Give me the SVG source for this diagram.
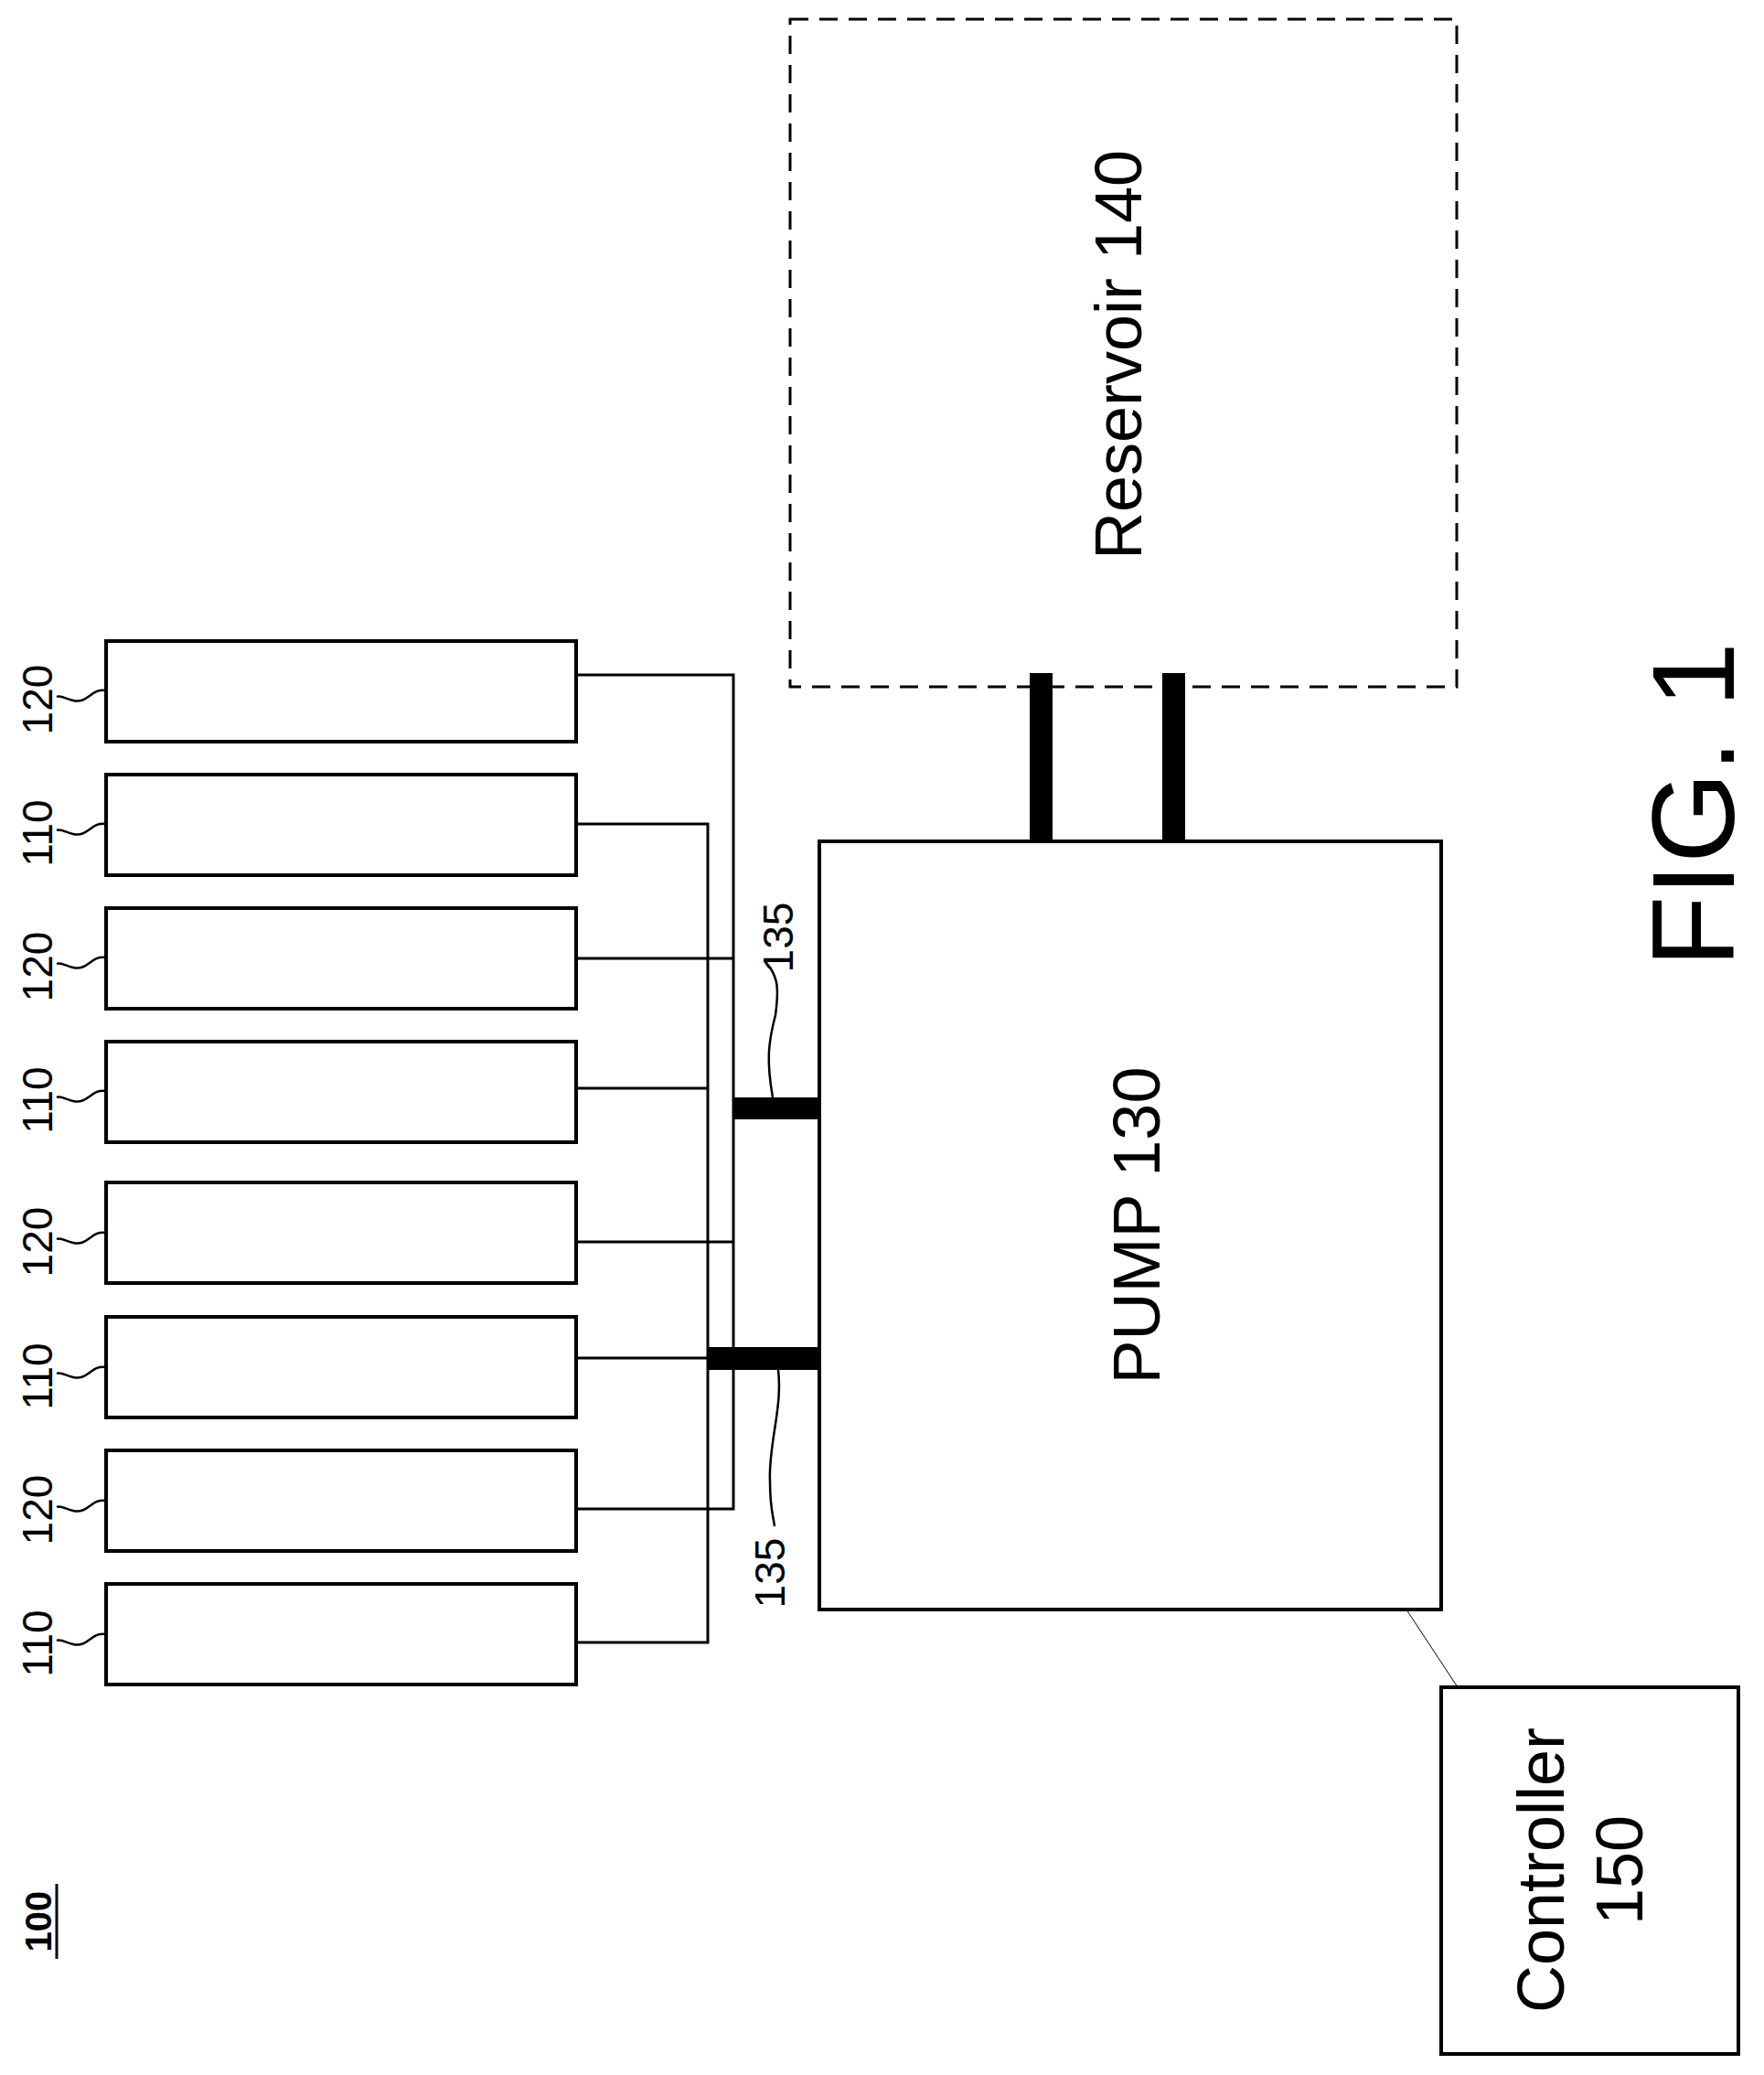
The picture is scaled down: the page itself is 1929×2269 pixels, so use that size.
<svg xmlns="http://www.w3.org/2000/svg" width="1929" height="2269" viewBox="0 0 1929 2269">
<style>
.b{fill:none;stroke:#000;stroke-width:4}
.w{fill:none;stroke:#000;stroke-width:3}
.t{font-family:"Liberation Sans",Arial,sans-serif;fill:#000}
.l{font-family:"Liberation Sans",Arial,sans-serif;font-size:46px;fill:#000;text-anchor:middle}
.s{fill:none;stroke:#000;stroke-width:2.5}
</style>
<rect width="1929" height="2269" fill="#fff"/>
<g id="connectors">
<path class="w" d="M630 738H802V1650H630M630 1048H802M630 1358H802"/>
<path class="w" d="M630 901H774V1796H630M630 1190H774M630 1485H774"/>
<rect x="802" y="1200" width="94" height="24" fill="#000"/>
<rect x="774" y="1473" width="122" height="25" fill="#000"/>
<rect x="1126" y="736" width="25" height="184" fill="#000"/>
<rect x="1271" y="736" width="25" height="184" fill="#000"/>
<line x1="1538" y1="1760" x2="1594" y2="1845" stroke="#000" stroke-width="1"/>
<path class="s" d="M845 1200C838 1160 840 1140 848 1110C852 1080 850 1070 842 1058"/>
<path class="s" d="M851 1498C856 1540 840 1580 842 1620C842 1650 846 1660 847 1669"/>
</g>
<g id="n120a"><rect class="b" x="116" y="701" width="514" height="110"/><path class="s" d="M116 755C100 752 96 770 80 766C72 764 66 760 62 762"/><text class="l" transform="translate(57 765) rotate(-90)">120</text></g>
<g id="n110a"><rect class="b" x="116" y="847" width="514" height="110"/><path class="s" d="M116 901C100 898 96 916 80 912C72 910 66 906 62 908"/><text class="l" transform="translate(57 911) rotate(-90)">110</text></g>
<g id="n120b"><rect class="b" x="116" y="993" width="514" height="110"/><path class="s" d="M116 1047C100 1044 96 1062 80 1058C72 1056 66 1052 62 1054"/><text class="l" transform="translate(57 1057) rotate(-90)">120</text></g>
<g id="n110b"><rect class="b" x="116" y="1139" width="514" height="110"/><path class="s" d="M116 1193C100 1190 96 1208 80 1204C72 1202 66 1198 62 1200"/><text class="l" transform="translate(57 1203) rotate(-90)">110</text></g>
<g id="n120c"><rect class="b" x="116" y="1293" width="514" height="110"/><path class="s" d="M116 1348C100 1345 96 1363 80 1359C72 1357 66 1353 62 1355"/><text class="l" transform="translate(57 1358) rotate(-90)">120</text></g>
<g id="n110c"><rect class="b" x="116" y="1440" width="514" height="110"/><path class="s" d="M116 1495C100 1492 96 1510 80 1506C72 1504 66 1500 62 1502"/><text class="l" transform="translate(57 1505) rotate(-90)">110</text></g>
<g id="n120d"><rect class="b" x="116" y="1586" width="514" height="110"/><path class="s" d="M116 1641C100 1638 96 1656 80 1652C72 1650 66 1646 62 1648"/><text class="l" transform="translate(57 1651) rotate(-90)">120</text></g>
<g id="n110d"><rect class="b" x="116" y="1732" width="514" height="110"/><path class="s" d="M116 1787C100 1784 96 1802 80 1798C72 1796 66 1792 62 1794"/><text class="l" transform="translate(57 1797) rotate(-90)">110</text></g>
<g id="l135"><text class="l" transform="translate(867 1025) rotate(-90)">135</text><text class="l" transform="translate(858 1720) rotate(-90)">135</text></g>
<g id="pump"><rect class="b" x="896" y="920" width="680" height="840"/><text class="t" font-size="72" text-anchor="middle" transform="translate(1268 1340) rotate(-90)">PUMP 130</text></g>
<g id="reservoir"><rect x="864" y="21" width="729" height="730" fill="none" stroke="#000" stroke-width="3" stroke-dasharray="20 12"/><text class="t" font-size="72" text-anchor="middle" transform="translate(1248 388) rotate(-90)">Reservoir 140</text></g>
<g id="controller"><rect class="b" x="1576" y="1845" width="325" height="401"/><text class="t" font-size="72" text-anchor="middle" transform="translate(1710 2045) rotate(-90)">Controller</text><text class="t" font-size="72" text-anchor="middle" transform="translate(1796 2045) rotate(-90)">150</text></g>
<g id="title"><text class="t" font-size="40" font-weight="bold" text-anchor="middle" transform="translate(56 2101) rotate(-90)">100</text><line x1="62" y1="2060" x2="62" y2="2142" stroke="#000" stroke-width="3"/></g>
<g id="fig"><text class="t" font-size="128" text-anchor="middle" transform="translate(1896 880) rotate(-90)">FIG. 1</text></g>
</svg>
